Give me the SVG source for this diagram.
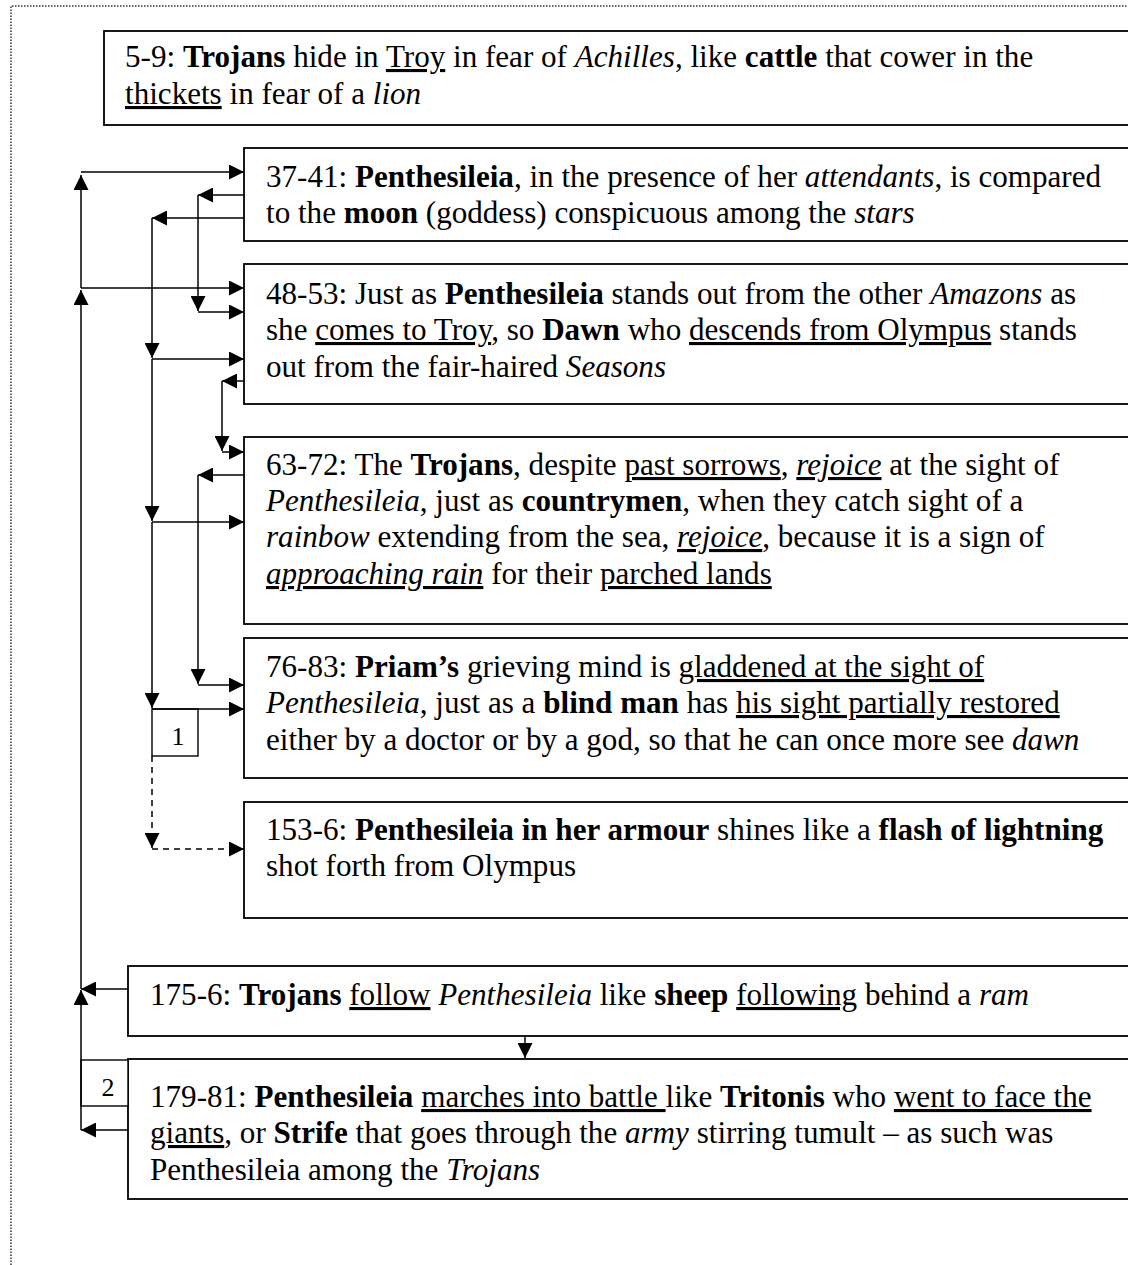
<svg xmlns="http://www.w3.org/2000/svg" width="1128" height="1265" viewBox="0 0 1128 1265">
<defs>
<marker id="ah" markerUnits="userSpaceOnUse" markerWidth="16" markerHeight="15" refX="15" refY="7.5" orient="auto" viewBox="0 0 16 15">
<path d="M0,0 L15,7.5 L0,15 z" fill="#000"/>
</marker>
<style>
text{font-family:"Liberation Serif","Times New Roman",serif;font-size:31.1px;fill:#000}
.b{font-weight:bold}
.i{font-style:italic}
.u{text-decoration:underline}
.lbl{font-size:26px;text-anchor:middle}
.box{fill:#fff;stroke:#000;stroke-width:1.8}
.c line{stroke:#000;stroke-width:1.5;fill:none}
.c .a{marker-end:url(#ah)}
.c .d{stroke-dasharray:6,5}
.frame{fill:none;stroke:#333;stroke-width:1.5;stroke-dasharray:1.5,1.5}
</style>
</defs>
<rect width="1128" height="1265" fill="#fff"/>
<path class="frame" d="M11,1265 V6 H1128"/>

<g id="n1">
<rect class="box" x="104" y="31" width="1040" height="94" stroke-width="1.5"/>
<text x="125" y="67">5-9: <tspan class="b">Trojans</tspan> hide in <tspan class="u">Troy</tspan> in fear of <tspan class="i">Achilles</tspan>, like <tspan class="b">cattle</tspan> that cower in the</text>
<text x="125" y="104"><tspan class="u">thickets</tspan> in fear of a <tspan class="i">lion</tspan></text>
</g>

<g id="n2">
<rect class="box" x="244" y="148" width="900" height="93"/>
<text x="266" y="187">37-41: <tspan class="b">Penthesileia</tspan>, in the presence of her <tspan class="i">attendants</tspan>, is compared</text>
<text x="266" y="223">to the <tspan class="b">moon</tspan> (goddess) conspicuous among the <tspan class="i">stars</tspan></text>
</g>

<g id="n3">
<rect class="box" x="244" y="264" width="900" height="140"/>
<text x="266" y="304">48-53: Just as <tspan class="b">Penthesileia</tspan> stands out from the other <tspan class="i">Amazons</tspan> as</text>
<text x="266" y="340">she <tspan class="u">comes to Troy</tspan>, so <tspan class="b">Dawn</tspan> who <tspan class="u">descends from Olympus</tspan> stands</text>
<text x="266" y="377">out from the fair-haired <tspan class="i">Seasons</tspan></text>
</g>

<g id="n4">
<rect class="box" x="244" y="437" width="900" height="187"/>
<text x="266" y="475">63-72: The <tspan class="b">Trojans</tspan>, despite <tspan class="u">past sorrows</tspan>, <tspan class="i u">rejoice</tspan> at the sight of</text>
<text x="266" y="511"><tspan class="i">Penthesileia</tspan>, just as <tspan class="b">countrymen</tspan>, when they catch sight of a</text>
<text x="266" y="547"><tspan class="i">rainbow</tspan> extending from the sea, <tspan class="i u">rejoice</tspan>, because it is a sign of</text>
<text x="266" y="584"><tspan class="i u">approaching rain</tspan> for their <tspan class="u">parched lands</tspan></text>
</g>

<g id="n5">
<rect class="box" x="244" y="638" width="900" height="140"/>
<text x="266" y="677">76-83: <tspan class="b">Priam’s</tspan> grieving mind is <tspan class="u">gladdened at the sight of</tspan></text>
<text x="266" y="713"><tspan class="i">Penthesileia</tspan>, just as a <tspan class="b">blind man</tspan> has <tspan class="u">his sight partially restored</tspan></text>
<text x="266" y="750">either by a doctor or by a god, so that he can once more see <tspan class="i">dawn</tspan></text>
</g>

<g id="n6">
<rect class="box" x="244" y="802" width="900" height="116"/>
<text x="266" y="840">153-6: <tspan class="b">Penthesileia in her armour</tspan> shines like a <tspan class="b">flash of lightning</tspan></text>
<text x="266" y="876">shot forth from Olympus</text>
</g>

<g id="n7">
<rect class="box" x="128" y="966" width="1016" height="70" stroke-width="1.5"/>
<text x="150" y="1005">175-6: <tspan class="b">Trojans</tspan> <tspan class="u">follow</tspan> <tspan class="i">Penthesileia</tspan> like <tspan class="b">sheep</tspan> <tspan class="u">following</tspan> behind a <tspan class="i">ram</tspan></text>
</g>

<g id="n8">
<rect class="box" x="128" y="1059" width="1016" height="140" stroke-width="1.5"/>
<text x="150" y="1107">179-81: <tspan class="b">Penthesileia</tspan> <tspan class="u">marches into battle </tspan>like <tspan class="b">Tritonis</tspan> who <tspan class="u">went to face the</tspan></text>
<text x="150" y="1143"><tspan class="u">giants</tspan>, or <tspan class="b">Strife</tspan> that goes through the <tspan class="i">army</tspan> stirring tumult – as such was</text>
<text x="150" y="1180">Penthesileia among the <tspan class="i">Trojans</tspan></text>
</g>

<g id="label1">
<rect x="152" y="709" width="46" height="47" fill="#fff" stroke="#000" stroke-width="1.4"/>
<text class="lbl" x="178" y="745">1</text>
</g>

<g id="label2">
<rect x="81" y="1060" width="47" height="46" fill="#fff" stroke="#000" stroke-width="1.4"/>
<text class="lbl" x="108" y="1096">2</text>
</g>

<g id="connectors" class="c">
<line class="a" x1="128" y1="1130" x2="81" y2="1130"/>
<line class="a" x1="81" y1="1130" x2="81" y2="990"/>
<line class="a" x1="128" y1="989" x2="81" y2="989"/>
<line class="a" x1="81" y1="989" x2="81" y2="290"/>
<line class="a" x1="81" y1="288" x2="244" y2="288"/>
<line class="a" x1="81" y1="288" x2="81" y2="175"/>
<line class="a" x1="81" y1="172" x2="244" y2="172"/>

<line class="a" x1="244" y1="195" x2="198" y2="195"/>
<line class="a" x1="198" y1="195" x2="198" y2="311"/>
<line class="a" x1="198" y1="312" x2="244" y2="312"/>

<line class="a" x1="244" y1="218" x2="152" y2="218"/>
<line class="a" x1="152" y1="218" x2="152" y2="358"/>
<line class="a" x1="152" y1="359" x2="244" y2="359"/>

<line class="a" x1="244" y1="381" x2="222" y2="381"/>
<line class="a" x1="222" y1="381" x2="222" y2="451"/>
<line class="a" x1="222" y1="452" x2="244" y2="452"/>

<line class="a" x1="152" y1="359" x2="152" y2="521"/>
<line class="a" x1="152" y1="522" x2="244" y2="522"/>
<line class="a" x1="152" y1="522" x2="152" y2="708"/>
<line class="a" x1="152" y1="709" x2="244" y2="709"/>

<line class="a" x1="244" y1="475" x2="198" y2="475"/>
<line class="a" x1="198" y1="475" x2="198" y2="684"/>
<line class="a" x1="198" y1="685" x2="244" y2="685"/>

<line class="a d" x1="152" y1="756" x2="152" y2="848"/>
<line class="a d" x1="152" y1="849" x2="244" y2="849"/>

<line class="a" x1="525" y1="1036" x2="525" y2="1058"/>
</g>
</svg>
